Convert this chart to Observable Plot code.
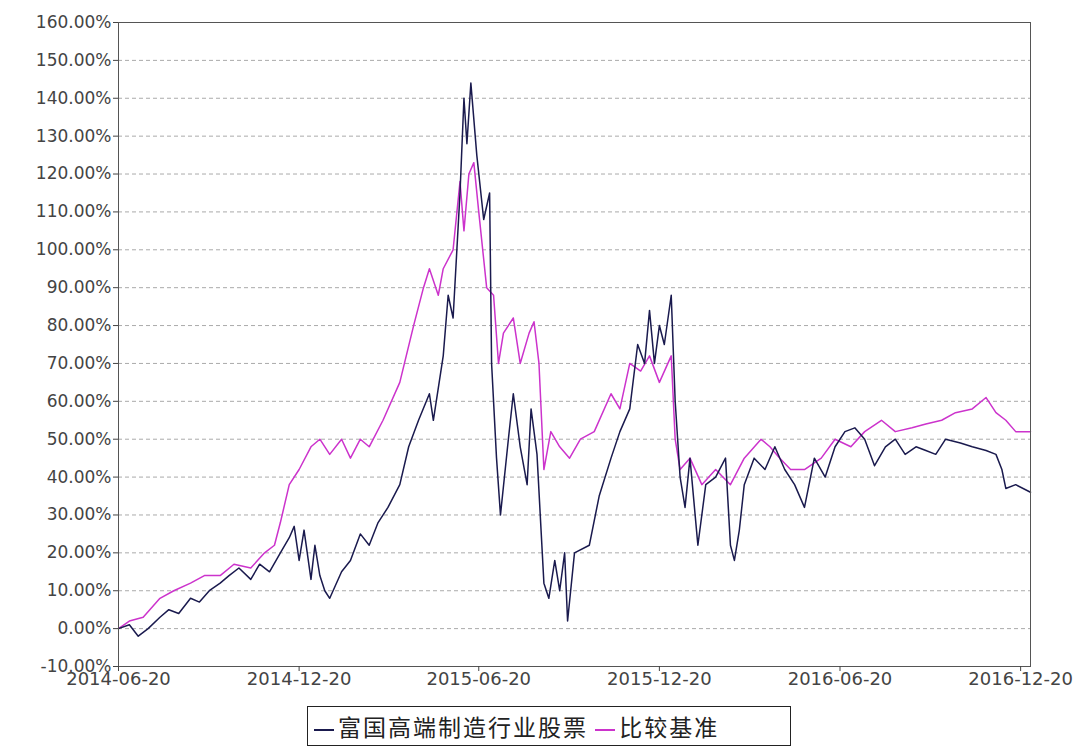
<!DOCTYPE html>
<html><head><meta charset="utf-8">
<script src="https://cdn.jsdelivr.net/npm/d3@7"></script>
<script src="https://cdn.jsdelivr.net/npm/@observablehq/plot@0.6"></script>
<style>body{margin:0;background:#fff;font-family:"DejaVu Sans",sans-serif}
#lg{position:absolute;left:307px;top:706px;width:470px;border:1.5px solid #222;padding:3px 6px;font-size:23px;letter-spacing:2px;font-family:"Noto Sans CJK SC";line-height:32px;white-space:nowrap;color:#222}
#lg span{display:inline-block;width:20px;height:2px;vertical-align:middle;margin-right:4px}</style>
</head><body><div id="c"></div>
<div id="lg"><span style="background:#1a1a4e"></span>富国高端制造行业股票 <span style="background:#cc33cc"></span>比较基准</div>
<script>
const fundDates=["2014-06-20","2014-07-01","2014-07-10","2014-07-20","2014-08-01","2014-08-10","2014-08-20","2014-09-01","2014-09-10","2014-09-20","2014-10-01","2014-10-10","2014-10-20","2014-11-01","2014-11-10","2014-11-20","2014-12-01","2014-12-10","2014-12-15","2014-12-20","2014-12-25","2015-01-01","2015-01-05","2015-01-10","2015-01-15","2015-01-20","2015-02-01","2015-02-10","2015-02-20","2015-03-01","2015-03-10","2015-03-20","2015-04-01","2015-04-10","2015-04-20","2015-05-01","2015-05-05","2015-05-15","2015-05-20","2015-05-25","2015-06-01","2015-06-05","2015-06-08","2015-06-12","2015-06-18","2015-06-25","2015-07-01","2015-07-03","2015-07-08","2015-07-12","2015-07-20","2015-07-25","2015-08-01","2015-08-08","2015-08-12","2015-08-18","2015-08-25","2015-08-30","2015-09-05","2015-09-10","2015-09-15","2015-09-18","2015-09-25","2015-10-10","2015-10-20","2015-11-01","2015-11-10","2015-11-20","2015-11-28","2015-12-05","2015-12-10","2015-12-15","2015-12-20","2015-12-25","2016-01-01","2016-01-05","2016-01-10","2016-01-15","2016-01-20","2016-01-28","2016-02-05","2016-02-15","2016-02-25","2016-03-01","2016-03-05","2016-03-10","2016-03-15","2016-03-25","2016-04-05","2016-04-15","2016-04-25","2016-05-05","2016-05-15","2016-05-25","2016-06-05","2016-06-15","2016-06-25","2016-07-05","2016-07-15","2016-07-25","2016-08-05","2016-08-15","2016-08-25","2016-09-05","2016-09-15","2016-09-25","2016-10-05","2016-10-20","2016-11-01","2016-11-15","2016-11-25","2016-12-01","2016-12-05","2016-12-15","2016-12-30"];
const fundValues=[0,1,-2,0,3,5,4,8,7,10,12,14,16,13,17,15,20,24,27,18,26,13,22,14,10,8,15,18,25,22,28,32,38,48,55,62,55,72,88,82,115,140,128,144,125,108,115,70,45,30,50,62,48,38,58,46,12,8,18,10,20,2,20,22,35,45,52,58,75,70,84,70,80,75,88,60,40,32,45,22,38,40,45,22,18,26,38,45,42,48,42,38,32,45,40,48,52,53,50,43,48,50,46,48,47,46,50,49,48,47,46,42,37,38,36];
const benchDates=["2014-06-20","2014-07-01","2014-07-15","2014-08-01","2014-08-15","2014-09-01","2014-09-15","2014-10-01","2014-10-15","2014-11-01","2014-11-15","2014-11-25","2014-12-01","2014-12-10","2014-12-20","2015-01-01","2015-01-10","2015-01-20","2015-02-01","2015-02-10","2015-02-20","2015-03-01","2015-03-15","2015-04-01","2015-04-15","2015-04-25","2015-05-01","2015-05-10","2015-05-15","2015-05-25","2015-06-01","2015-06-05","2015-06-10","2015-06-15","2015-06-20","2015-06-28","2015-07-05","2015-07-10","2015-07-15","2015-07-25","2015-08-01","2015-08-10","2015-08-15","2015-08-20","2015-08-25","2015-09-01","2015-09-10","2015-09-20","2015-10-01","2015-10-15","2015-11-01","2015-11-10","2015-11-20","2015-12-01","2015-12-10","2015-12-20","2016-01-01","2016-01-05","2016-01-10","2016-01-20","2016-02-01","2016-02-15","2016-03-01","2016-03-15","2016-04-01","2016-04-10","2016-04-20","2016-05-01","2016-05-15","2016-06-01","2016-06-15","2016-07-01","2016-07-15","2016-08-01","2016-08-15","2016-09-01","2016-09-15","2016-10-01","2016-10-15","2016-11-01","2016-11-15","2016-11-25","2016-12-05","2016-12-15","2016-12-30"];
const benchValues=[0,2,3,8,10,12,14,14,17,16,20,22,28,38,42,48,50,46,50,45,50,48,55,65,80,90,95,88,95,100,118,105,120,123,110,90,88,70,78,82,70,78,81,70,42,52,48,45,50,52,62,58,70,68,72,65,72,50,42,45,38,42,38,45,50,48,45,42,42,45,50,48,52,55,52,53,54,55,57,58,61,57,55,52,52];
const yTicks=d3.range(-10,161,10);
const xTicks=["2014-06-20","2014-12-20","2015-06-20","2015-12-20","2016-06-20","2016-12-20"];
const P=d3.utcParse("%Y-%m-%d");
const fund=fundDates.map((d,i)=>({date:P(d),v:fundValues[i]}));
const bench=benchDates.map((d,i)=>({date:P(d),v:benchValues[i]}));
const chart=Plot.plot({
  width:1091,height:700,marginLeft:118,marginTop:22,marginRight:61,marginBottom:34,
  style:{fontFamily:"DejaVu Sans",color:"#444"},
  x:{type:"utc",domain:[P("2014-06-20"),P("2016-12-30")],label:null},
  y:{domain:[-10,160],label:null},
  marks:[
    Plot.ruleY(yTicks.filter(t=>t>-10&&t<160),{stroke:"#aaa",strokeDasharray:"4,3",strokeWidth:1}),
    Plot.line(bench,{x:"date",y:"v",stroke:"#cc33cc",strokeWidth:1.5}),
    Plot.line(fund,{x:"date",y:"v",stroke:"#1a1a4e",strokeWidth:1.5}),
    Plot.frame({stroke:"#555"}),
    Plot.axisY({ticks:yTicks,tickFormat:d=>d.toFixed(2)+"%",tickSize:5,tickPadding:2,fontSize:17,style:{letterSpacing:"1.2px"}}),
    Plot.axisX({ticks:xTicks.map(P),tickFormat:d3.utcFormat("%Y-%m-%d"),tickSize:5,tickPadding:1,fontSize:18,style:{letterSpacing:"1.5px"}})
  ]
});
document.getElementById("c").appendChild(chart);
</script></body></html>
